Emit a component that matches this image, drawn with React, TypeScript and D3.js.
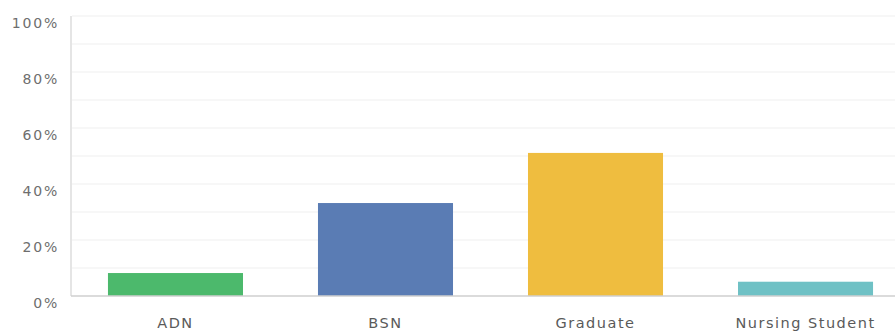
import React from "react";
import * as d3 from "d3";

const categories = ["ADN", "BSN", "Graduate", "Nursing Student"];
const shares = [8.2, 33.2, 51.1, 5.1];
const barColors = ["#4cb96c", "#5a7cb4", "#efbd3f", "#6fc1c5"];
const yTicks = [0, 20, 40, 60, 80, 100];
const gridSteps = [10, 20, 30, 40, 50, 60, 70, 80, 90, 100];

const W = 895;
const H = 331;
const FONT = "'DejaVu Sans', sans-serif";

export default function App() {
  const x = d3
    .scaleBand<string>()
    .domain(categories)
    .range([71, 910])
    .paddingInner(0.357)
    .paddingOuter(0.176);
  const y = d3.scaleLinear().domain([0, 100]).range([296, 16]);

  return (
    <svg
      width={W}
      height={H}
      style={{ position: "absolute", left: 0, top: 0, background: "#fff" }}
    >
      {gridSteps.map((v) => (
        <line
          key={v}
          x1={72}
          x2={W}
          y1={y(v)}
          y2={y(v)}
          stroke="#efefef"
          strokeWidth={1}
        />
      ))}
      <line x1={71} x2={71} y1={y(100)} y2={y(0)} stroke="#dcdcdc" strokeWidth={1.5} />
      {categories.map((c, i) => (
        <rect
          key={c}
          x={x(c)}
          y={y(shares[i])}
          width={x.bandwidth()}
          height={y(0) - y(shares[i])}
          fill={barColors[i]}
        />
      ))}
      <line x1={71} x2={W} y1={y(0)} y2={y(0)} stroke="#cfcfcf" strokeWidth={1.5} />
      {yTicks.map((t) => (
        <text
          key={t}
          x={59}
          y={y(t) + 12}
          textAnchor="end"
          fontFamily={FONT}
          fontSize={14}
          fill="#6e6e6e"
          letterSpacing={1.8}
        >
          {t}%
        </text>
      ))}
      {categories.map((c) => (
        <text
          key={c}
          x={(x(c) as number) + x.bandwidth() / 2}
          y={328}
          textAnchor="middle"
          fontFamily={FONT}
          fontSize={14.5}
          fill="#5a5a5a"
          letterSpacing={1.5}
        >
          {c}
        </text>
      ))}
    </svg>
  );
}
